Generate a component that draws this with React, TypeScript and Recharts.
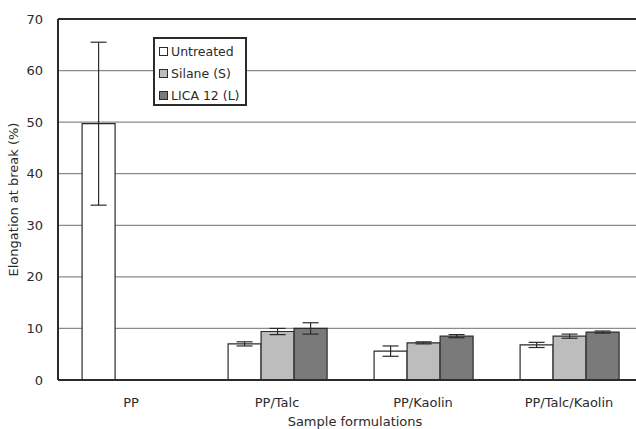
import { Bar, BarChart, CartesianGrid, ErrorBar, ReferenceLine, XAxis, YAxis } from "recharts";

const categories = ["PP", "PP/Talc", "PP/Kaolin", "PP/Talc/Kaolin"];
const untreated = [49.7, 7.0, 5.6, 6.8];
const untreatedErr = [15.8, 0.4, 1.0, 0.5];
const silane = [null, 9.4, 7.2, 8.5];
const silaneErr = [null, 0.6, 0.2, 0.4];
const lica = [null, 10.0, 8.5, 9.3];
const licaErr = [null, 1.1, 0.3, 0.2];
const yTicks = [0, 10, 20, 30, 40, 50, 60, 70];

const FONT = "'DejaVu Sans', Verdana, sans-serif";
const INK = "#2b2b2b";

const SERIES = [
  { key: "untreated", name: "Untreated", fill: "#ffffff" },
  { key: "silane", name: "Silane (S)", fill: "#bdbdbd" },
  { key: "lica", name: "LICA 12 (L)", fill: "#7a7a7a" },
];

const data = categories.map((name, i) => ({
  name,
  untreated: untreated[i],
  untreatedErr: untreatedErr[i],
  silane: silane[i],
  silaneErr: silaneErr[i],
  lica: lica[i],
  licaErr: licaErr[i],
}));

// boxed legend sitting inside the plot, top-left
function LegendBox() {
  return (
    <div
      style={{
        position: "absolute",
        left: 153,
        top: 37,
        width: 86,
        height: 64,
        border: `2px solid ${INK}`,
        background: "#fff",
        padding: "1px 0 0 4px",
        fontFamily: FONT,
        fontSize: 12.5,
        color: INK,
      }}
    >
      {SERIES.map((s) => (
        <div key={s.key} style={{ display: "flex", alignItems: "center", height: 22, whiteSpace: "nowrap" }}>
          <span
            style={{
              display: "inline-block",
              width: 7,
              height: 7,
              border: `1px solid ${INK}`,
              background: s.fill,
              marginRight: 3,
            }}
          />
          {s.name}
        </div>
      ))}
    </div>
  );
}

export default function App() {
  return (
    <div style={{ position: "fixed", left: 0, top: 0, width: 636, height: 429, overflow: "hidden", background: "#fff" }}>
      <BarChart
        width={650}
        height={429}
        data={data}
        margin={{ top: 19, right: 8, left: 0, bottom: 0 }}
        barGap={0}
        barCategoryGap="16.5%"
      >
        <CartesianGrid vertical={false} stroke="#8a8a8a" strokeWidth={1.2} />
        <XAxis
          dataKey="name"
          height={49}
          tickLine={false}
          axisLine={{ stroke: INK, strokeWidth: 2 }}
          tick={{ fill: INK, fontSize: 13, fontFamily: FONT }}
          tickMargin={12}
          label={{
            value: "Sample formulations",
            position: "insideBottom",
            offset: 3,
            dx: 5,
            fill: INK,
            fontSize: 13,
            fontFamily: FONT,
          }}
        />
        <YAxis
          width={58}
          domain={[0, 70]}
          ticks={yTicks}
          tickLine={false}
          axisLine={{ stroke: INK, strokeWidth: 2 }}
          tick={{ fill: INK, fontSize: 13, fontFamily: FONT }}
          tickMargin={9}
          label={{
            value: "Elongation at break (%)",
            angle: -90,
            position: "insideLeft",
            offset: 13,
            style: { textAnchor: "middle" },
            fill: INK,
            fontSize: 13,
            fontFamily: FONT,
          }}
        />
        <ReferenceLine y={70} stroke={INK} strokeWidth={2} />
        {SERIES.map((s) => (
          <Bar
            key={s.key}
            dataKey={s.key}
            name={s.name}
            fill={s.fill}
            stroke={INK}
            strokeWidth={1.2}
            isAnimationActive={false}
          >
            <ErrorBar dataKey={`${s.key}Err`} width={8} stroke={INK} strokeWidth={1.2} direction="y" />
          </Bar>
        ))}
      </BarChart>
      <LegendBox />
    </div>
  );
}
